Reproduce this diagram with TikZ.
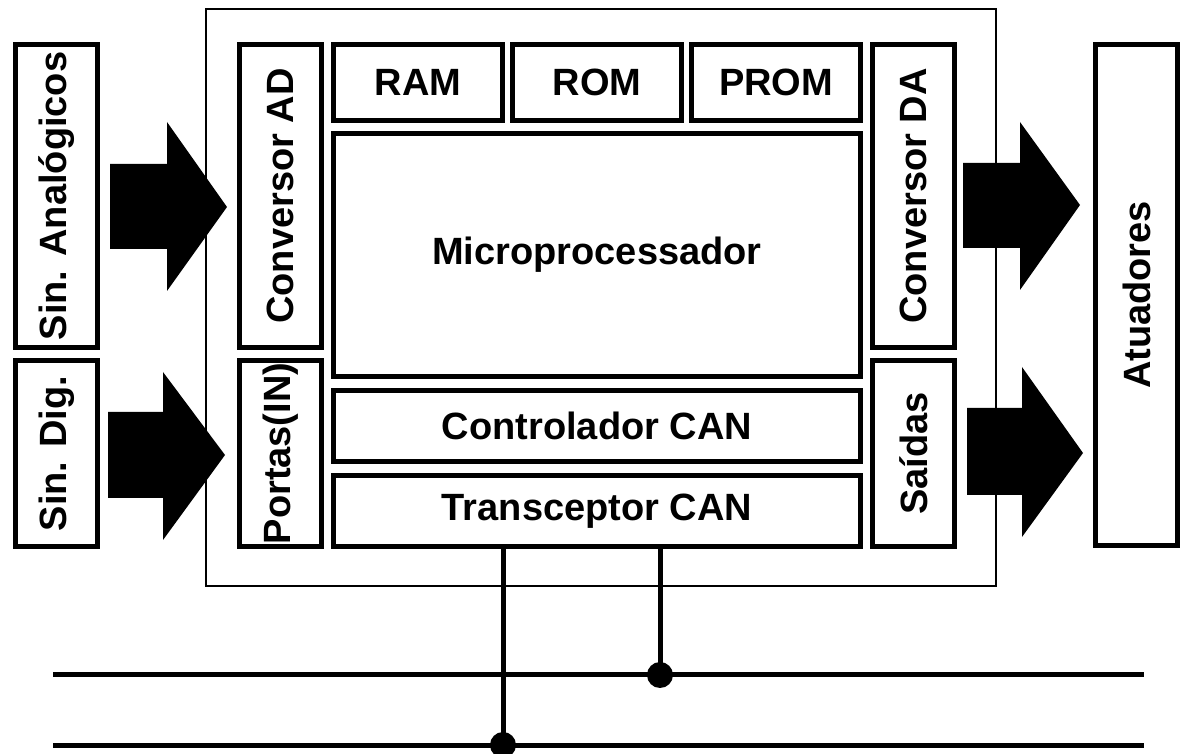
\documentclass[tikz,border=0pt]{standalone}
\usepackage{fontspec}
\setmainfont{Liberation Sans}
\usepackage{tikz}

\begin{document}
\begin{tikzpicture}[x=0.5pt,y=-0.5pt,
  every node/.style={draw, line width=2.5pt, inner sep=0pt, outer sep=0pt, font=\fontsize{19}{22}\selectfont\bfseries},
  seta/.style={fill=black, draw=none},
  barra/.style={line width=2.5pt}]
\useasboundingbox (0,0) rectangle (1180,754);

% ECU
\node[line width=1pt, minimum width=395pt, minimum height=288.5pt] (ecu) at (601,297.5) {};

% entradas
\node[rotate=90, minimum width=151.5pt, minimum height=41pt] (sinan) at (56.5,196) {Sin. Analógicos};
\node[rotate=90, minimum width=93pt, minimum height=41pt] (sindig) at (56.5,453.5) {Sin. Dig.};

\node[rotate=90, minimum width=151.5pt, minimum height=41pt] (convad) at (280.5,196) {Conversor AD};
\node[rotate=90, minimum width=93pt, minimum height=41pt] (portas) at (280.5,453.5) {Portas(IN)};

% memorias e processador
\node[minimum width=84.5pt, minimum height=38pt] (ram) at (418,82.5) {RAM};
\node[minimum width=84.5pt, minimum height=38pt] (rom) at (597,82.5) {ROM};
\node[minimum width=84.5pt, minimum height=38pt] (prom) at (776,82.5) {PROM};
\node[minimum width=263.5pt, minimum height=121.5pt] (micro) at (597,255) {Microprocessador};
\node[minimum width=263.5pt, minimum height=35.5pt] (ctrl) at (597,426) {Controlador CAN};
\node[minimum width=263.5pt, minimum height=35.5pt] (trans) at (597,511) {Transceptor CAN};

% saidas
\node[rotate=90, minimum width=151.5pt, minimum height=41pt] (convda) at (913.5,196) {Conversor DA};
\node[rotate=90, minimum width=93pt, minimum height=41pt] (saidas) at (913.5,453.5) {Saídas};
\node[rotate=90, minimum width=250.5pt, minimum height=41pt] (atuad) at (1136.5,295) {Atuadores};

% setas
\fill[seta] (110,164) -- (167,164) -- (167,122) -- (227,207) -- (167,291) -- (167,249) -- (110,249) -- cycle;
\fill[seta] (108,412) -- (163,412) -- (163,372) -- (225,455) -- (163,540) -- (163,498) -- (108,498) -- cycle;
\fill[seta] (963,163) -- (1020,163) -- (1020,122) -- (1080,205) -- (1020,290) -- (1020,248) -- (963,248) -- cycle;
\fill[seta] (967,408) -- (1022,408) -- (1022,367) -- (1083,453) -- (1022,537) -- (1022,495) -- (967,495) -- cycle;

% barramento CAN
\coordinate (h1) at (53,675);
\coordinate (h2) at (1144,675);
\coordinate (l1) at (53,745);
\coordinate (l2) at (1144,745);
\coordinate (canl) at (503,745);
\coordinate (canh) at (660,675);
\draw[barra] (h1) -- (h2);
\draw[barra] (l1) -- (l2);
\draw[barra] (canl |- trans.south) -- (canl);
\draw[barra] (canh |- trans.south) -- (canh);
\fill (canl) circle[radius=6.5pt];
\fill (canh) circle[radius=6.5pt];
\end{tikzpicture}
\end{document}
